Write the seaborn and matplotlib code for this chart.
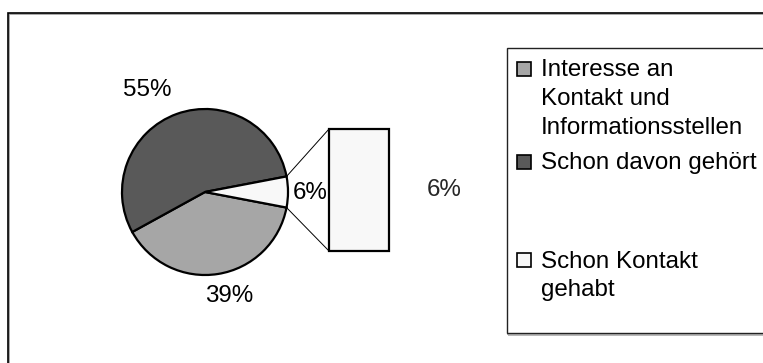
import numpy as np
import matplotlib
matplotlib.use("Agg")
import matplotlib.pyplot as plt
from matplotlib.patches import Rectangle
import seaborn as sns

# Survey answers (share of respondents, %)
categories = ["Interesse an\nKontakt und\nInformationsstellen",
              "Schon davon gehört",
              "Schon Kontakt\ngehabt"]
shares = [39, 55, 6]
slice_colors = ["#a6a6a6", "#595959", "#f8f8f8"]

# Secondary bar breaks down the smallest slice
bar_categories = ["Schon Kontakt gehabt"]
bar_values = [6]

sns.set_theme(style="white")
plt.rcParams["font.family"] = ["Liberation Sans", "DejaVu Sans"]

W, H = 763, 363
fig = plt.figure(figsize=(W / 100, H / 100), dpi=100)
fig.patch.set_facecolor("white")

# Full-figure axes in pixel units (y measured upward)
ax = fig.add_axes([0, 0, 1, 1])
FS = 17.4

cx, cy, r = 205, 171, 83
start = -360 * shares[2] / 100 / 2
wedges, _ = ax.pie(shares, colors=slice_colors, startangle=start,
                   counterclock=False, radius=r, center=(cx, cy),
                   wedgeprops=dict(edgecolor="black", linewidth=1.6))
ax.set_xlim(0, W)
ax.set_ylim(0, H)
ax.set_aspect("equal")
ax.axis("off")

# Percentage labels around the pie
pie_label_pos = [(229, 67), (147, 273), (310, 170)]
for v, (x, y) in zip(shares, pie_label_pos):
    ax.text(x, y, f"{v}%", fontsize=FS, ha="center", va="center", color="black")

# Bar of the pie
bx0, by0, bw, bh = 329, 112, 60, 122
bax = fig.add_axes([bx0 / W, by0 / H, bw / W, bh / H])
sns.barplot(x=bar_categories, y=bar_values, ax=bax, color=slice_colors[2],
            edgecolor="black", linewidth=1.6, width=1.0, saturation=1)
for p in bax.patches:
    p.set_clip_on(False)
bax.set_xlim(-0.5, 0.5)
bax.set_ylim(0, sum(bar_values))
bax.axis("off")
ax.text(444, 173, f"{bar_values[0]}%", fontsize=FS, ha="center", va="center")

# Connector lines from the small slice to the bar
w = wedges[2]
for th, ty in [(w.theta1, by0), (w.theta2, by0 + bh)]:
    t = np.deg2rad(th)
    ax.plot([cx + r * np.cos(t), bx0], [cy + r * np.sin(t), ty],
            color="black", linewidth=0.7)

# Chart frame with shadow
ax.add_patch(Rectangle((9, -60), 800, H - 13 + 60 - 1, facecolor="none",
                       edgecolor="#999999", linewidth=1.2, clip_on=False))
ax.add_patch(Rectangle((8, -60), 800, H - 13 + 60, facecolor="none",
                       edgecolor="black", linewidth=1.2, clip_on=False))

# Legend box
lx0, ly_top, ly_bot = 507, H - 48, H - 333
ax.add_patch(Rectangle((lx0 + 1, ly_bot - 1.5), 400, ly_top - ly_bot,
                       facecolor="none", edgecolor="#aaaaaa", linewidth=1.2,
                       clip_on=False))
ax.add_patch(Rectangle((lx0, ly_bot), 400, ly_top - ly_bot,
                       facecolor="white", edgecolor="#222222", linewidth=1.0,
                       clip_on=False))
entry_y = [H - 69, H - 162, H - 260]
for lab, col, y in zip(categories, slice_colors, entry_y):
    ax.add_patch(Rectangle((517, y - 7), 14, 14, facecolor=col,
                           edgecolor="black", linewidth=1.2))
    ax.text(541, y + 9.5, lab, fontsize=FS, ha="left", va="top",
            linespacing=1.4, color="black")

fig.savefig("out.png", dpi=100, facecolor="white")
